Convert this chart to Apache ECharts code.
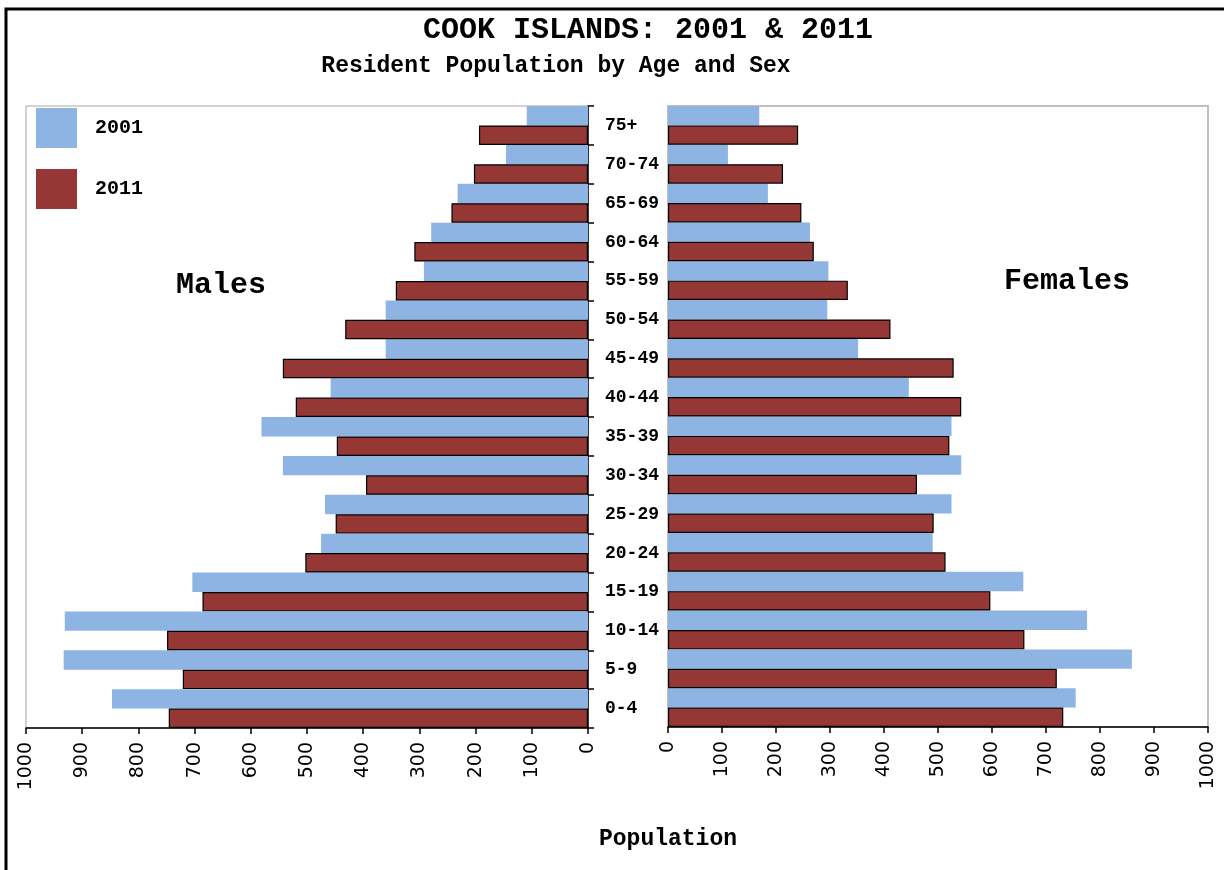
<!DOCTYPE html>
<html>
<head>
<meta charset="utf-8">
<script src="https://cdn.jsdelivr.net/npm/echarts@6/dist/echarts.min.js"></script>
<style>
html,body{margin:0;padding:0;background:#fff;}
#chart{width:1224px;height:870px;}
</style>
</head>
<body>
<div id="chart"></div>
<script>
const ageGroups = ['0-4','5-9','10-14','15-19','20-24','25-29','30-34','35-39','40-44','45-49','50-54','55-59','60-64','65-69','70-74','75+'];
const male2001   = [847, 933, 931, 704, 475, 468, 543, 581, 458, 360, 360, 292, 279, 232, 146, 109];
const male2011   = [746, 721, 749, 686, 503, 449, 395, 447, 520, 543, 432, 342, 309, 243, 203, 194];
const female2001 = [755, 859, 776, 658, 490, 525, 543, 525, 446, 352, 295, 297, 263, 185, 111, 169];
const female2011 = [732, 720, 660, 597, 514, 492, 461, 521, 543, 529, 412, 333, 270, 247, 213, 241];
const valueTicks = { min: 0, max: 1000, interval: 100 };
const seriesNames = ['2001', '2011'];

const BLUE = '#8EB4E3', RED = '#953735';
const MONO = '"Liberation Mono", "Courier New", monospace';
const SANS = 'DejaVu Sans';

const chart = echarts.init(document.getElementById('chart'), null, {renderer: 'canvas'});

function xAxisCfg(gridIndex, inverse) {
  return {
    type: 'value', gridIndex: gridIndex, inverse: inverse,
    min: valueTicks.min, max: valueTicks.max, interval: valueTicks.interval,
    axisLine: {show: true, lineStyle: {color: '#000', width: 1.5}},
    axisTick: {show: true, length: 6, lineStyle: {color: '#000', width: 1.5}},
    axisLabel: {show: true, rotate: 90, margin: 14, color: '#000', fontFamily: SANS, fontSize: 19,
      formatter: function (v) { return String(v); }},
    splitLine: {show: false}
  };
}

const barBase = {type: 'bar', barGap: '0%', barCategoryGap: '0%'};

const option = {
  backgroundColor: '#fff',
  animation: false,
  legend: {
    data: seriesNames,
    orient: 'vertical', left: 36, top: 108, padding: 0,
    itemWidth: 41, itemHeight: 40, itemGap: 21,
    icon: 'rect',
    itemStyle: {borderWidth: 0},
    textStyle: {fontFamily: MONO, fontWeight: 'bold', fontSize: 20, color: '#000', padding: [0, 0, 0, 13]}
  },
  grid: [
    {left: 26, right: 636, top: 106, bottom: 142, show: true, borderColor: '#A6A6A6', borderWidth: 1, backgroundColor: 'transparent', outerBoundsMode: 'none'},
    {left: 668, right: 16, top: 106, bottom: 143, show: true, borderColor: '#C0C0C0', borderWidth: 2, backgroundColor: 'transparent', outerBoundsMode: 'none'}
  ],
  xAxis: [xAxisCfg(0, true), xAxisCfg(1, false)],
  yAxis: [
    {
      type: 'category', gridIndex: 0, data: ageGroups, position: 'right',
      axisLine: {show: true, onZero: false, lineStyle: {color: '#000', width: 1.5}},
      axisTick: {show: true, length: 6, lineStyle: {color: '#000', width: 1.5}},
      axisLabel: {show: true, margin: 17, align: 'left', color: '#000', fontFamily: MONO, fontWeight: 'bold', fontSize: 18},
      splitLine: {show: false}
    },
    {
      type: 'category', gridIndex: 1, data: ageGroups, position: 'left',
      axisLine: {show: true, onZero: false, lineStyle: {color: '#C0C0C0', width: 2}},
      axisTick: {show: false},
      axisLabel: {show: false},
      splitLine: {show: false}
    }
  ],
  series: [
    Object.assign({}, barBase, {name: seriesNames[0], xAxisIndex: 0, yAxisIndex: 0, data: male2001, itemStyle: {color: BLUE}}),
    Object.assign({}, barBase, {name: seriesNames[1], xAxisIndex: 0, yAxisIndex: 0, data: male2011, itemStyle: {color: RED, borderColor: '#000', borderWidth: 1.2}}),
    Object.assign({}, barBase, {name: seriesNames[0], xAxisIndex: 1, yAxisIndex: 1, data: female2001, itemStyle: {color: BLUE}}),
    Object.assign({}, barBase, {name: seriesNames[1], xAxisIndex: 1, yAxisIndex: 1, data: female2011, itemStyle: {color: RED, borderColor: '#000', borderWidth: 1.2}})
  ],
  graphic: [
    {type: 'rect', silent: true, z: 100, shape: {x: 6, y: 9, width: 1400, height: 1000}, style: {fill: 'none', stroke: '#000', lineWidth: 3}},
    {type: 'text', x: 648, y: 30, style: {text: 'COOK ISLANDS: 2001 & 2011', fontFamily: MONO, fontWeight: 'bold', fontSize: 30, fill: '#000', align: 'center', verticalAlign: 'middle'}},
    {type: 'text', x: 556, y: 66, style: {text: 'Resident Population by Age and Sex', fontFamily: MONO, fontWeight: 'bold', fontSize: 23, fill: '#000', align: 'center', verticalAlign: 'middle'}},
    {type: 'text', x: 221, y: 285, style: {text: 'Males', fontFamily: MONO, fontWeight: 'bold', fontSize: 30, fill: '#000', align: 'center', verticalAlign: 'middle'}},
    {type: 'text', x: 1067, y: 281, style: {text: 'Females', fontFamily: MONO, fontWeight: 'bold', fontSize: 30, fill: '#000', align: 'center', verticalAlign: 'middle'}},
    {type: 'text', x: 668, y: 839, style: {text: 'Population', fontFamily: MONO, fontWeight: 'bold', fontSize: 23, fill: '#000', align: 'center', verticalAlign: 'middle'}}
  ]
};
chart.setOption(option);
</script>
</body>
</html>
